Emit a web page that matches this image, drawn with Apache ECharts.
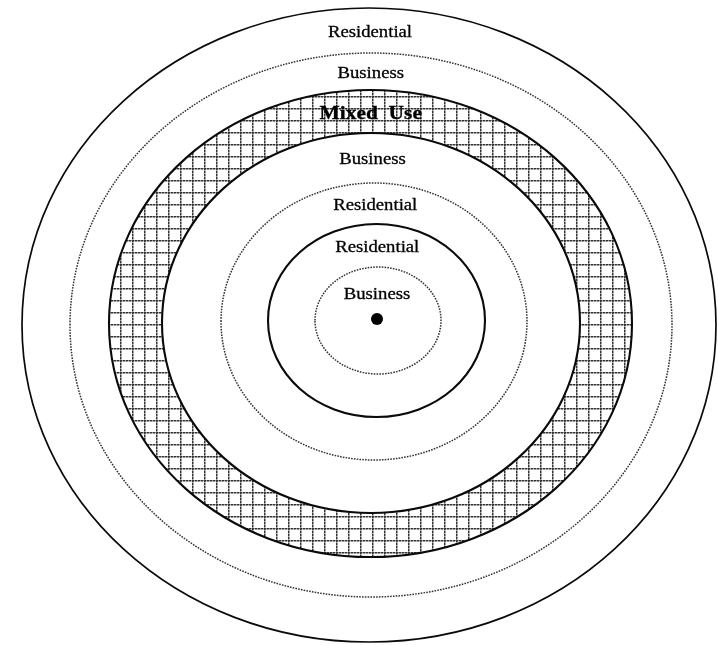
<!DOCTYPE html>
<html>
<head>
<meta charset="utf-8">
<script src="https://cdn.jsdelivr.net/npm/echarts@6/dist/echarts.min.js"></script>
<style>
  html, body { margin: 0; padding: 0; background: #fff; }
  #chart { width: 718px; height: 645px; }
</style>
</head>
<body>
<div id="chart"></div>
<script>
// rings from the outside in (units = picture pixels)
const ringCx = [369, 371, 370.5, 371, 374, 376.5, 378]
const ringCy = [325, 325, 323.5, 323, 321.5, 320.5, 320.5]
const ringRx = [347, 301, 261.5, 209, 153, 108.5, 63]
const ringRy = [317, 272, 233.5, 190, 138.5, 96.5, 53.5]
const ringLine = ['solid', 'dotted', 'solid', 'solid', 'dotted', 'solid', 'dotted']
// zone between ring i and ring i+1 (last one: inside the smallest ring)
const zones = ['Residential', 'Business', 'Mixed Use', 'Business', 'Residential', 'Residential', 'Business']
const hatchedZone = 'Mixed Use'
const centerPoint = [377, 319]

// grid pattern for the mixed use band
function makeHatch() {
  let c = document.createElement('canvas')
  c.width = 12
  c.height = 12
  let ctx = c.getContext('2d')
  ctx.fillStyle = '#fff'
  ctx.fillRect(0, 0, 12, 12)
  for (let i = 0; i < 12; i++) {
    ctx.fillStyle = i % 3 === 2 ? '#999' : '#333'
    ctx.fillRect(i, 0, 1, 1.5)
    ctx.fillRect(0, i, 1.5, 1)
  }
  return c
}
const hatch = { image: makeHatch(), repeat: 'repeat' }

let ringData = ringCx.map((cx, i) => [cx, ringCy[i], ringRx[i], ringRy[i], i])
let labelData = zones.map((name, i) => {
  let top = ringCy[i] - ringRy[i]
  let next = i + 1 < ringCy.length ? ringCy[i + 1] - ringRy[i + 1] : centerPoint[1]
  let x = i + 1 < ringCx.length ? (ringCx[i] + ringCx[i + 1]) / 2 : centerPoint[0]
  return [x, (top + next) / 2, i]
})

let mycharts = echarts.init(document.getElementById('chart'))
mycharts.setOption({
  animation: false,
  grid: { left: 0, right: 0, top: 0, bottom: 0 },
  xAxis: { type: 'value', min: 0, max: 718, show: false },
  yAxis: { type: 'value', min: 0, max: 645, inverse: true, show: false },
  series: [
    {
      type: 'custom',
      data: ringData,
      renderItem: function (params, api) {
        let i = api.value(4)
        let c = api.coord([api.value(0), api.value(1)])
        let s = api.size([api.value(2), api.value(3)])
        let dotted = ringLine[i] === 'dotted'
        return {
          type: 'ellipse',
          shape: { cx: c[0], cy: c[1], rx: s[0], ry: s[1] },
          style: {
            fill: zones[i] === hatchedZone ? hatch : '#fff',
            stroke: dotted ? '#333' : '#0a0a0a',
            lineWidth: dotted ? 1.5 : (i === 0 ? 1.7 : 2.1),
            lineDash: dotted ? [1.6, 1.2] : null
          }
        }
      }
    },
    {
      type: 'scatter',
      data: [centerPoint],
      symbolSize: 12,
      itemStyle: { color: '#000', opacity: 1 },
      z: 3
    },
    {
      type: 'custom',
      data: labelData,
      z: 4,
      renderItem: function (params, api) {
        let i = api.value(2)
        let p = api.coord([api.value(0), api.value(1)])
        let bold = zones[i] === hatchedZone
        return {
          type: 'text',
          x: p[0],
          y: p[1] + 2,
          scaleX: 1.1,
          style: {
            text: bold ? 'Mixed  Use' : zones[i],
            align: 'center',
            verticalAlign: 'middle',
            fontFamily: 'Liberation Serif',
            fontSize: bold ? 19.5 : 17,
            fontWeight: bold ? 'bold' : 'normal',
            fill: '#000',
            stroke: '#000',
            lineWidth: 0.3
          }
        }
      }
    }
  ]
})
</script>
</body>
</html>
